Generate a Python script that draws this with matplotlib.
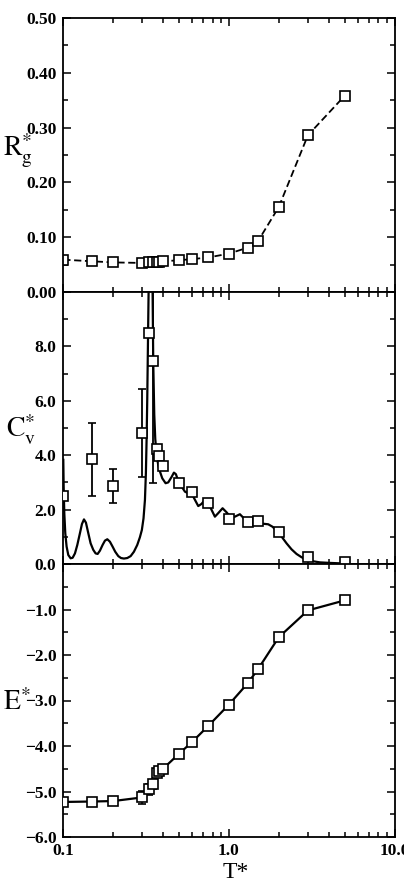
import numpy as np
import matplotlib.pyplot as plt
from matplotlib.ticker import MultipleLocator, FixedLocator, NullFormatter, LogLocator

plt.rcParams['font.family'] = ['Liberation Serif', 'DejaVu Serif']
plt.rcParams['mathtext.fontset'] = 'stix'

# temperatures of the simulation runs
temp = [0.1, 0.15, 0.2, 0.3, 0.33, 0.35, 0.37, 0.38, 0.4, 0.5, 0.6, 0.75,
        1.0, 1.3, 1.5, 2.0, 3.0, 5.0]

# radius of gyration
rg = [0.059, 0.056, 0.054, 0.053, 0.054, 0.054, 0.054, 0.055, 0.056, 0.058,
      0.060, 0.063, 0.070, 0.081, 0.093, 0.155, 0.286, 0.358]

# heat capacity points and error bars
cv = [2.50, 3.85, 2.88, 4.81, 8.50, 7.48, 4.22, 3.97, 3.62, 2.99, 2.65, 2.26,
      1.64, 1.53, 1.58, 1.17, 0.27, 0.09]
cv_err = [0.0, 1.35, 0.63, 1.62, 0.0, 4.5, 0.0, 0.0, 0.0, 0.0, 0.0, 0.0,
          0.0, 0.0, 0.0, 0.0, 0.0, 0.0]

# heat capacity curve (histogram reweighting)
cv_curve_t = [0.1000, 0.1005, 0.1014, 0.1028, 0.1047, 0.1072, 0.1107, 0.1139,
              0.1176, 0.1215, 0.1260, 0.1296, 0.1333, 0.1370, 0.1416, 0.1462,
              0.1517, 0.1567, 0.1612, 0.1664, 0.1727, 0.1785, 0.1844, 0.1912,
              0.1984, 0.2059, 0.2148, 0.2230, 0.2324, 0.2435, 0.2551, 0.2669,
              0.2796, 0.2900, 0.2981, 0.3051, 0.3112, 0.3153, 0.3184, 0.3213,
              0.3243, 0.3274, 0.3360, 0.3461, 0.3493, 0.3542, 0.3592, 0.3660,
              0.3744, 0.3833, 0.3960, 0.4147, 0.4303, 0.4507, 0.4656, 0.4787,
              0.4945, 0.5179, 0.5425, 0.5682, 0.5953, 0.6235, 0.6530, 0.6839,
              0.7164, 0.7503, 0.7859, 0.8232, 0.8622, 0.9158, 0.9681, 1.0235,
              1.087, 1.165, 1.232, 1.308, 1.403, 1.504, 1.612, 1.728, 1.834,
              1.940, 2.079, 2.229, 2.389, 2.561, 2.745, 2.943, 3.229, 3.542,
              4.071, 4.898]
cv_curve = [3.83, 2.85, 1.87, 1.13, 0.64, 0.33, 0.21, 0.23,
            0.39, 0.70, 1.13, 1.47, 1.64, 1.52, 1.13, 0.76,
            0.52, 0.39, 0.37, 0.49, 0.70, 0.86, 0.91, 0.82,
            0.64, 0.45, 0.29, 0.22, 0.20, 0.22, 0.29, 0.45,
            0.70, 0.98, 1.25, 1.68, 2.36, 3.34, 4.56, 6.04,
            8.00, 10.0, 14.0, 10.0, 7.40, 5.50, 4.60, 4.00,
            3.64, 3.40, 3.15, 2.97, 3.00, 3.20, 3.36, 3.30,
            3.05, 2.85, 2.66, 2.60, 2.60, 2.36, 2.13, 2.21,
            2.36, 2.26, 1.99, 1.74, 1.87, 2.05, 1.90, 1.72,
            1.74, 1.83, 1.68, 1.50, 1.44, 1.46, 1.48, 1.46, 1.37,
            1.23, 1.01, 0.76, 0.54, 0.37, 0.25, 0.16, 0.10, 0.06,
            0.04, 0.02]

# energy
energy = [-5.23, -5.22, -5.21, -5.13, -4.95, -4.84, -4.60, -4.55, -4.50,
          -4.17, -3.91, -3.56, -3.09, -2.62, -2.31, -1.61, -1.02, -0.80]
energy_err = [0.0, 0.0, 0.0, 0.15, 0.12, 0.1, 0.0, 0.0, 0.0, 0.0, 0.0, 0.0,
              0.0, 0.0, 0.0, 0.0, 0.0, 0.0]

fig = plt.figure(figsize=(4.04, 8.94), dpi=100)
W, H = 404, 894
left, right = 63.3 / W, 394.5 / W
tops = [18, 292, 564]
bots = [292, 564, 837]
axes = []
for t, b in zip(tops, bots):
    axes.append(fig.add_axes([left, 1 - b / H, right - left, (b - t) / H]))
ax1, ax2, ax3 = axes

mk = dict(marker='s', markersize=6.5, markerfacecolor='white',
          markeredgecolor='black', markeredgewidth=1.2, color='black')

ax1.plot(temp, rg, linestyle=(0, (4, 2)), linewidth=1.3, **mk)

ax2.plot(cv_curve_t, cv_curve, color='black', linewidth=1.6, zorder=2)
ax2.errorbar(temp, cv, yerr=cv_err, linestyle='none', ecolor='black',
             elinewidth=1.3, capsize=3, capthick=1.3, zorder=3, **mk)

ax3.errorbar(temp, energy, yerr=energy_err, linestyle='-', linewidth=1.6,
             ecolor='black', elinewidth=1.1, capsize=3, zorder=3, **mk)

ax1.set_ylim(0, 0.5)
ax1.set_yticks(np.arange(0, 0.51, 0.1))
ax1.set_yticklabels(['%.2f' % v for v in np.arange(0, 0.51, 0.1)])
ax1.yaxis.set_minor_locator(MultipleLocator(0.05))

ax2.set_ylim(0, 10)
ax2.set_yticks([0, 2, 4, 6, 8, 10])
ax2.set_yticklabels(['0.0', '2.0', '4.0', '6.0', '8.0', ''])
ax2.yaxis.set_minor_locator(MultipleLocator(1))

ax3.set_ylim(-6, 0)
ax3.set_yticks([-6, -5, -4, -3, -2, -1, 0])
ax3.set_yticklabels(['\u22126.0', '\u22125.0', '\u22124.0', '\u22123.0',
                     '\u22122.0', '\u22121.0', ''])
ax3.yaxis.set_minor_locator(MultipleLocator(0.5))

for ax in axes:
    ax.set_xscale('log')
    ax.set_xlim(0.1, 10)
    ax.xaxis.set_major_locator(FixedLocator([0.1, 1.0, 10.0]))
    ax.xaxis.set_minor_locator(LogLocator(base=10, subs=np.arange(2, 10)))
    ax.xaxis.set_minor_formatter(NullFormatter())
    ax.tick_params(which='both', direction='in', top=True, right=True,
                   width=1.1)
    ax.tick_params(which='major', length=6)
    ax.tick_params(which='minor', length=3.5)
    ax.tick_params(axis='y', labelsize=12.5, pad=5)
    for lab in ax.get_yticklabels():
        lab.set_fontweight('bold')
    for s in ax.spines.values():
        s.set_linewidth(1.3)

ax1.tick_params(axis='x', labelbottom=False)
ax2.tick_params(axis='x', labelbottom=False)
ax3.set_xticklabels(['0.1', '1.0', '10.0'])
ax3.tick_params(axis='x', labelsize=12.5, pad=4)
for lab in ax3.get_xticklabels():
    lab.set_fontweight('bold')

fig.text(3 / W, 1 - 150 / H, r'$\mathrm{R}_\mathrm{g}^{*}$', fontsize=20,
         va='center', ha='left')
fig.text(6 / W, 1 - 430 / H, r'$\mathrm{C}_\mathrm{v}^{*}$', fontsize=20,
         va='center', ha='left')
fig.text(3 / W, 1 - 703 / H, r'$\mathrm{E}^{*}$', fontsize=20,
         va='center', ha='left')
fig.text(236 / W, 1 - 872 / H, 'T*', fontsize=17, va='center', ha='center')

fig.savefig('out.png', dpi=100)
